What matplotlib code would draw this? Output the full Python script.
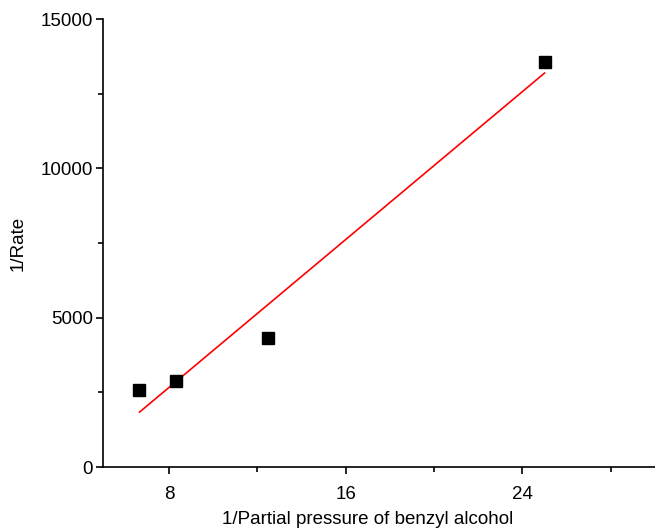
import matplotlib
matplotlib.use('Agg')
import matplotlib.pyplot as plt
from matplotlib.ticker import MultipleLocator

plt.rcParams['font.family'] = ['Liberation Sans', 'DejaVu Sans']

# Measured points
inv_pressure = [6.64, 8.32, 12.48, 25.0]
inv_rate = [2590, 2890, 4330, 13550]

# Fitted line end points
fit_x = [6.67, 25.0]
fit_y = [1840, 13190]

fig = plt.figure(figsize=(6.55, 5.31), dpi=100)
ax = fig.add_axes([0.1568, 0.1205, 0.8432, 0.8437])

ax.plot(fit_x, fit_y, color='red', linewidth=1.2)
ax.plot(inv_pressure, inv_rate, 's', color='black', markersize=8)

ax.set_xlim(5, 30)
ax.set_ylim(0, 15000)
ax.xaxis.set_major_locator(MultipleLocator(8))
ax.xaxis.set_minor_locator(MultipleLocator(4))
ax.yaxis.set_major_locator(MultipleLocator(5000))
ax.yaxis.set_minor_locator(MultipleLocator(2500))
ax.set_xticks([8, 16, 24])

for side in ['top', 'right']:
    ax.spines[side].set_visible(False)
for side in ['left', 'bottom']:
    ax.spines[side].set_linewidth(1.2)

ax.tick_params(axis='both', which='major', length=5, width=1.2, labelsize=13.5)
ax.tick_params(axis='both', which='minor', length=3.5, width=1.2)
ax.tick_params(axis='x', which='major', pad=9)
ax.tick_params(axis='y', which='major', pad=2)

ax.set_xlabel('1/Partial pressure of benzyl alcohol', fontsize=13.5)
ax.set_ylabel('1/Rate', fontsize=13.5, labelpad=10)
ax.xaxis.set_label_coords(0.479, -0.098)

fig.savefig('out.png', dpi=100)
